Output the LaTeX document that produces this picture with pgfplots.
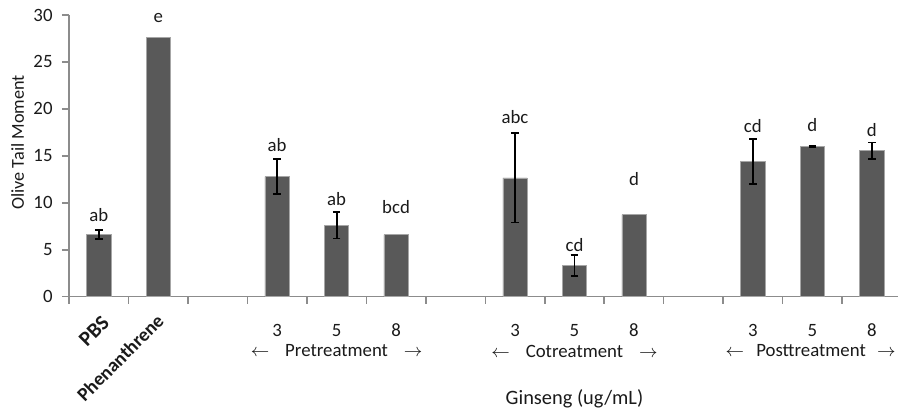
\documentclass[border=0pt]{standalone}
\usepackage{fontspec}
\setmainfont{Carlito}
\usepackage{pgfplots}
\pgfplotsset{compat=1.18}
\usepackage{pgfplotstable}
\definecolor{barc}{HTML}{595959}
\definecolor{axc}{HTML}{8C8C8C}
\definecolor{txt}{HTML}{1A1A1A}

\pgfplotstableread{
x y e
0 6.65 0.47
3 12.8 1.85
4 7.6 1.4
7 12.65 4.75
8 3.35 1.13
11 14.38 2.4
12 16.0 0.05
13 15.55 0.87
}\witherr
\pgfplotstableread{
x y
1 27.6
5 6.62
9 8.75
}\noerr

\begin{document}
\begin{tikzpicture}
\begin{axis}[
  width=414.5pt, height=140.85pt, scale only axis,
  xmin=-0.5, xmax=13.44, ymin=0, ymax=30,
  axis x line*=bottom, axis y line*=left,
  axis line style={axc, line width=0.75pt, -},
  xtick={-0.5,0.5,...,12.5}, xticklabels={},
  ytick={0,5,...,30},
  tick style={axc, line width=0.75pt},
  tick align=outside, major tick length=3.5pt,
  clip=false,
  ybar, bar width=12.15pt,
  font=\fontsize{9.4}{11}\selectfont,
  yticklabel style={font=\fontsize{9.4}{11}\selectfont, text=txt, xshift=-1.2pt},
  /pgf/number format/assume math mode=true,
]
\addplot[fill=barc, draw=gray!70, line width=0.3pt, bar shift=0pt,
  error bars/.cd, y dir=both, y explicit,
  error bar style={black, line width=0.9pt},
  error mark options={rotate=90, mark size=1.9pt, line width=0.9pt, black}]
  table[x=x, y=y, y error=e]{\witherr};
\addplot[fill=barc, draw=gray!70, line width=0.3pt, bar shift=0pt]
  table[x=x, y=y]{\noerr};

% significance letters
\node[text=txt] at (axis cs:0,8.7) {ab};
\node[text=txt] at (axis cs:1,29.65) {e};
\node[text=txt] at (axis cs:3,16.15) {ab};
\node[text=txt] at (axis cs:4,10.44) {ab};
\node[text=txt] at (axis cs:5,9.55) {bcd};
\node[text=txt] at (axis cs:7,19.15) {abc};
\node[text=txt] at (axis cs:8,5.5) {cd};
\node[text=txt] at (axis cs:9,12.57) {d};
\node[text=txt] at (axis cs:11,18.18) {cd};
\node[text=txt] at (axis cs:12,18.28) {d};
\node[text=txt] at (axis cs:13,17.75) {d};

% category labels
\node[text=txt, rotate=45, anchor=east, font=\fontsize{10.5}{12}\selectfont\bfseries] at (axis cs:0.2,-1.9) {PBS};
\node[text=txt, rotate=45, anchor=east, font=\fontsize{9.6}{11}\selectfont\bfseries] at (axis cs:1.12,-1.7) {Phenanthrene};
\node[text=txt] at (axis cs:3,-3.55) {3};
\node[text=txt] at (axis cs:4,-3.55) {5};
\node[text=txt] at (axis cs:5,-3.55) {8};
\node[text=txt] at (axis cs:7,-3.55) {3};
\node[text=txt] at (axis cs:8,-3.55) {5};
\node[text=txt] at (axis cs:9,-3.55) {8};
\node[text=txt] at (axis cs:11,-3.55) {3};
\node[text=txt] at (axis cs:12,-3.55) {5};
\node[text=txt] at (axis cs:13,-3.55) {8};
\node[text=txt] at (axis cs:4,-5.78) {$\leftarrow$\hspace{0.85em}Pretreatment\hspace{0.85em}$\rightarrow$};
\node[text=txt] at (axis cs:8,-5.78) {$\leftarrow$\hspace{0.85em}Cotreatment\hspace{0.85em}$\rightarrow$};
\node[text=txt] at (axis cs:11.97,-5.78) {$\leftarrow$\hspace{0.65em}Posttreatment\hspace{0.6em}$\rightarrow$};
\node[text=txt, font=\fontsize{10.2}{12}\selectfont] at (axis cs:8,-10.9) {Ginseng (ug/mL)};
\node[text=txt, rotate=90, font=\fontsize{9.1}{11}\selectfont] at (axis cs:-1.366,16.42) {Olive Tail Moment};
\end{axis}
\pgfresetboundingbox
\path[use as bounding box] (-34.5pt,-57.65pt) rectangle (414.5pt,148.35pt);
\end{tikzpicture}
\end{document}
